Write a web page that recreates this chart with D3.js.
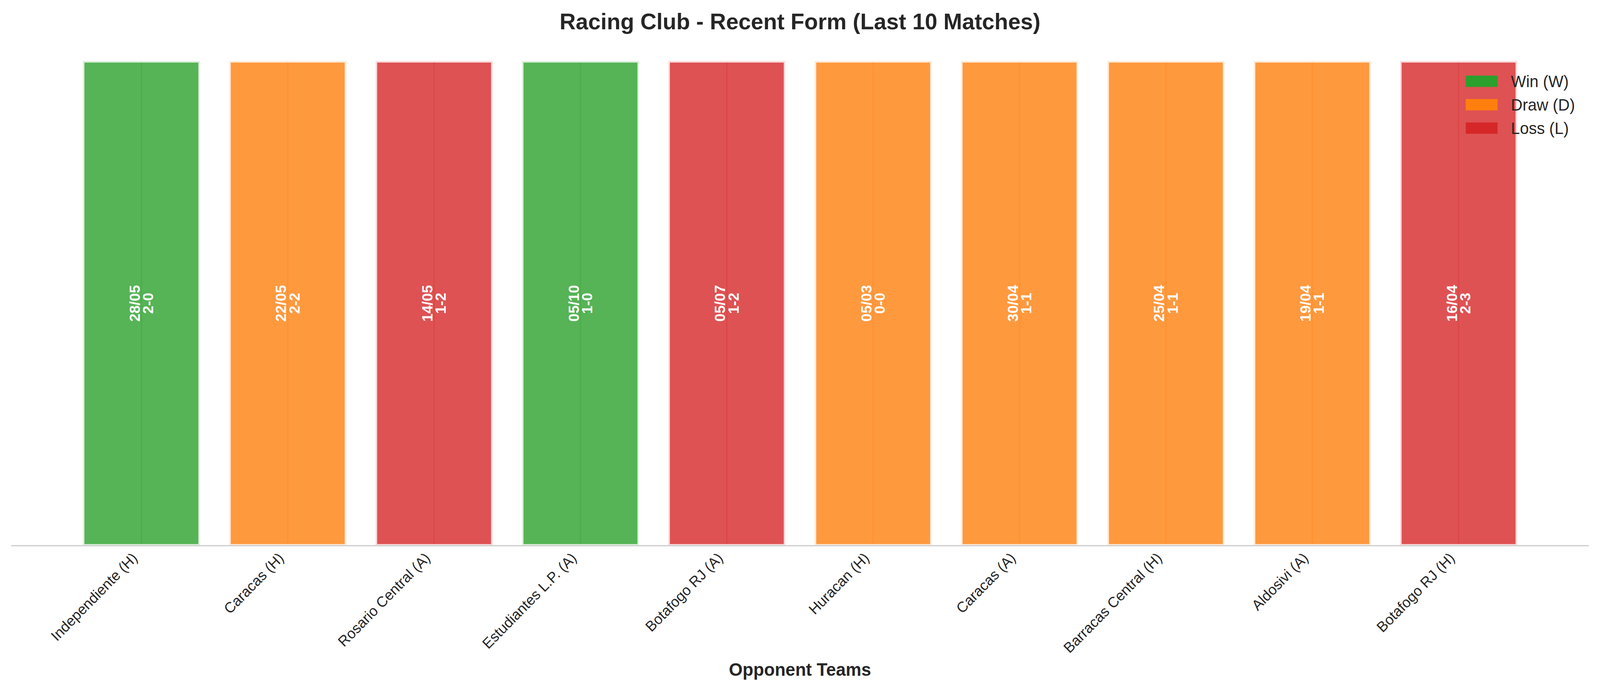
<!DOCTYPE html>
<html>
<head>
<meta charset="utf-8">
<script src="https://cdn.jsdelivr.net/npm/d3@7.9.0/dist/d3.min.js"></script>
<style>
  html, body { margin: 0; padding: 0; background: #fff; overflow: hidden; }
  svg { display: block; width: 100vw; height: 100vh; font-family: "Liberation Sans", Arial, sans-serif; }
</style>
</head>
<body>
<svg id="chart" viewBox="0 0 4170 1769" preserveAspectRatio="none"></svg>
<script>
const opponents = ['Independiente (H)', 'Caracas (H)', 'Rosario Central (A)', 'Estudiantes L.P. (A)',
  'Botafogo RJ (A)', 'Huracan (H)', 'Caracas (A)', 'Barracas Central (H)', 'Aldosivi (A)', 'Botafogo RJ (H)'];
const results = ['W', 'D', 'L', 'W', 'L', 'D', 'D', 'D', 'D', 'L'];
const dates = ['28/05', '22/05', '14/05', '05/10', '05/07', '05/03', '30/04', '25/04', '19/04', '16/04'];
const scores = ['2-0', '2-2', '1-2', '1-0', '1-2', '0-0', '1-1', '1-1', '1-1', '2-3'];
const barHeight = [1, 1, 1, 1, 1, 1, 1, 1, 1, 1];
const legendKeys = ['W', 'D', 'L'];
const legendLabels = ['Win (W)', 'Draw (D)', 'Loss (L)'];

const matches = opponents.map((o, i) => ({
  opponent: o, result: results[i], date: dates[i], score: scores[i], h: barHeight[i]
}));

const plotLeft = 29, plotRight = 4141, plotTop = 94, plotBottom = 1397;
const svg = d3.select('#chart');
const ink = '#262626';

const x = d3.scaleBand().domain(opponents).range([plotLeft, plotRight])
  .paddingInner(0.2).paddingOuter(0.49);
const y = d3.scaleLinear().domain([0, 1.05]).range([plotBottom, plotTop]);
const color = d3.scaleOrdinal().domain(legendKeys).range(['#2ca02c', '#ff7f0e', '#d62728']);

// bars
svg.append('g').selectAll('rect').data(matches).join('rect')
  .attr('x', d => x(d.opponent))
  .attr('y', d => y(d.h))
  .attr('width', x.bandwidth())
  .attr('height', d => y(0) - y(d.h))
  .attr('fill', d => color(d.result))
  .attr('fill-opacity', 0.8)
  .attr('stroke', '#fff')
  .attr('stroke-opacity', 0.8)
  .attr('stroke-width', 8.3);

// faint centre line showing through each bar
svg.append('g').selectAll('line').data(matches).join('line')
  .attr('x1', d => x(d.opponent) + x.bandwidth() / 2)
  .attr('x2', d => x(d.opponent) + x.bandwidth() / 2)
  .attr('y1', d => y(d.h) + 4)
  .attr('y2', y(0) - 4)
  .attr('stroke', d => color(d.result))
  .attr('stroke-opacity', 0.28)
  .attr('stroke-width', 3);

// date + score inside bars
const lab = svg.append('g').selectAll('text').data(matches).join('text')
  .attr('transform', d => `translate(${x(d.opponent) + x.bandwidth() / 2},${y(d.h / 2)}) rotate(-90)`)
  .attr('text-anchor', 'middle')
  .attr('fill', '#fff')
  .attr('font-weight', 'bold')
  .attr('font-size', 37.5);
lab.append('tspan').attr('x', 0).attr('y', -17.5).attr('dy', '0.35em').text(d => d.date);
lab.append('tspan').attr('x', 0).attr('y', 17.5).attr('dy', '0.35em').text(d => d.score);

// x axis
const xAxis = svg.append('g').attr('transform', `translate(0,${plotBottom})`)
  .call(d3.axisBottom(x).tickSize(0).tickPadding(0));
xAxis.select('.domain').attr('stroke', '#cccccc').attr('stroke-width', 3)
  .attr('d', `M${plotLeft},0H${plotRight}`);
xAxis.selectAll('.tick text')
  .attr('fill', ink)
  .attr('font-size', 37.5)
  .attr('font-family', '"Liberation Sans", Arial, sans-serif')
  .attr('text-anchor', 'end')
  .attr('dy', null)
  .attr('y', null)
  .attr('transform', 'translate(-8,34) rotate(-45)');

// title and axis label
svg.append('text').attr('x', (plotLeft + plotRight) / 2).attr('y', 75)
  .attr('text-anchor', 'middle').attr('font-weight', 'bold').attr('font-size', 58.3)
  .attr('fill', ink).text('Racing Club - Recent Form (Last 10 Matches)');

svg.append('text').attr('x', (plotLeft + plotRight) / 2).attr('y', 1730)
  .attr('text-anchor', 'middle').attr('font-weight', 'bold').attr('font-size', 45.8)
  .attr('fill', ink).text('Opponent Teams');

// legend
const legend = svg.append('g').attr('transform', 'translate(3820,208)');
const item = legend.selectAll('g').data(legendKeys).join('g')
  .attr('transform', (d, i) => `translate(0,${i * 60})`);
item.append('rect').attr('x', 0).attr('y', -14.5).attr('width', 83).attr('height', 29)
  .attr('fill', d => color(d));
item.append('text').attr('x', 118).attr('y', 0).attr('dy', '0.35em')
  .attr('font-size', 41.7).attr('fill', ink)
  .text((d, i) => legendLabels[i]);
</script>
</body>
</html>
